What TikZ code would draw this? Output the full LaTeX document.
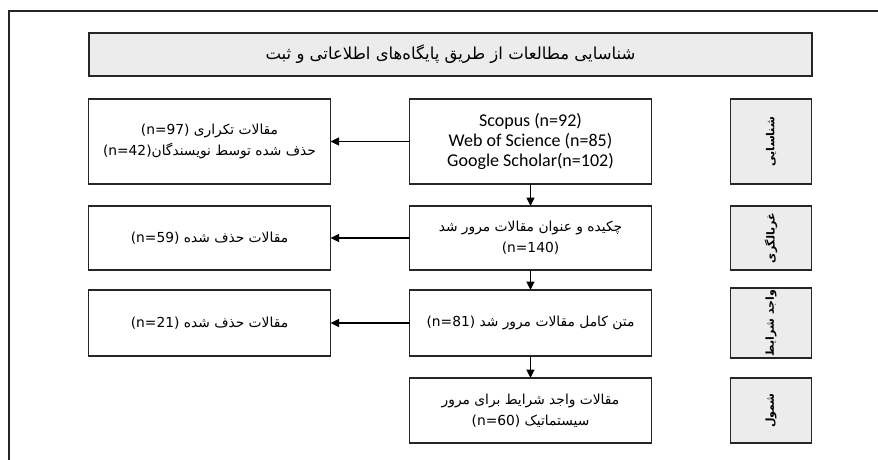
\documentclass[tikz,border=0pt]{standalone}
\usepackage{fontspec}
\setmainfont{Carlito}
\newfontfamily\farsi[Script=Arabic]{DejaVu Sans}
\TeXXeTstate=1
\usepackage{graphicx}
\usetikzlibrary{positioning, arrows.meta}
\tikzset{
	x=1pt, y=1pt,
	node distance=22pt and 79pt,
	every text node part/.style= {
		align=center
	},
	>={Triangle[length=8.5pt,width=8pt]},
	box/.style= {
		rectangle,
		draw=black!85,
		line width=1.3pt,
		outer sep=0pt,
		inner sep=2pt,
		minimum width=242pt
	},
	stage/.style= {
		box,
		fill=gray!15,
		minimum width=81pt
	},
	fa/.style= {
		font=\farsi\fontsize{13.8}{21}\selectfont
	},
	en/.style= {
		font=\fontsize{18}{20}\selectfont
	},
	link/.style= {
		->,
		line width=1.2pt
	}
}

\begin{document}
\begin{tikzpicture}
		\useasboundingbox (0,0) rectangle (878,-460);
		\draw[line width=1.5pt, black!85] (9,-460) -- (9,-11) -- (878,-11);
		
		\node (title)[box, fill=gray!15, font=\farsi\fontsize{16.5}{18}\selectfont, minimum width=723pt, minimum height=43pt] at (450.5,-54.5) {\beginR شناسایی مطالعات از طریق پایگاه‌های اطلاعاتی و ثبت\endR};
		
		\node (search)[box, en, minimum height=85pt] at (530.5,-141.5) {Scopus (n=92)\\Web of Science (n=85)\\Google Scholar(n=102)};
		\node (abstract)[box, fa, minimum height=64pt, below=of search] {\beginR چکیده و عنوان مقالات مرور شد\endR\\\beginL(n=140)\endL};
		\node (fulltext)[box, fa, minimum height=66pt, below=20pt of abstract] {\beginR متن کامل مقالات مرور شد \beginL(n=81)\endL\endR};
		\node (included)[box, fa, minimum height=65pt, below=of fulltext] {\beginR مقالات واجد شرایط برای مرور\endR\\\beginR سیستماتیک \beginL(n=60)\endL\endR};
		
		\node (dup)[box, fa, minimum height=85pt, left=of search] {\beginR مقالات تکراری \beginL(n=97)\endL\endR\\\beginR حذف شده توسط نویسندگان\beginL(n=42)\endL\endR};
		\node (out1)[box, fa, minimum height=64pt, left=of abstract] {\beginR مقالات حذف شده \beginL(n=59)\endL\endR};
		\node (out2)[box, fa, minimum height=66pt, left=of fulltext] {\beginR مقالات حذف شده \beginL(n=21)\endL\endR};
		
		\foreach \row/\stagename/\h in {search/شناسایی/85, abstract/غربالگری/64, fulltext/واجد شرایط/66, included/شمول/65}
		{
			\node (stage-\row)[stage, font=\farsi\bfseries\fontsize{11}{13}\selectfont, minimum height=\h pt, right=of \row] {\rotatebox{90}{\beginR \stagename\endR}};
		}
		
		\draw[link] (search) to (dup);
		\draw[link] (abstract) to (out1);
		\draw[link] (fulltext) to (out2);
		\draw[link] (search) to (abstract);
		\draw[link] (abstract) to (fulltext);
		\draw[link] (fulltext) to (included);
	\end{tikzpicture}
\end{document}
